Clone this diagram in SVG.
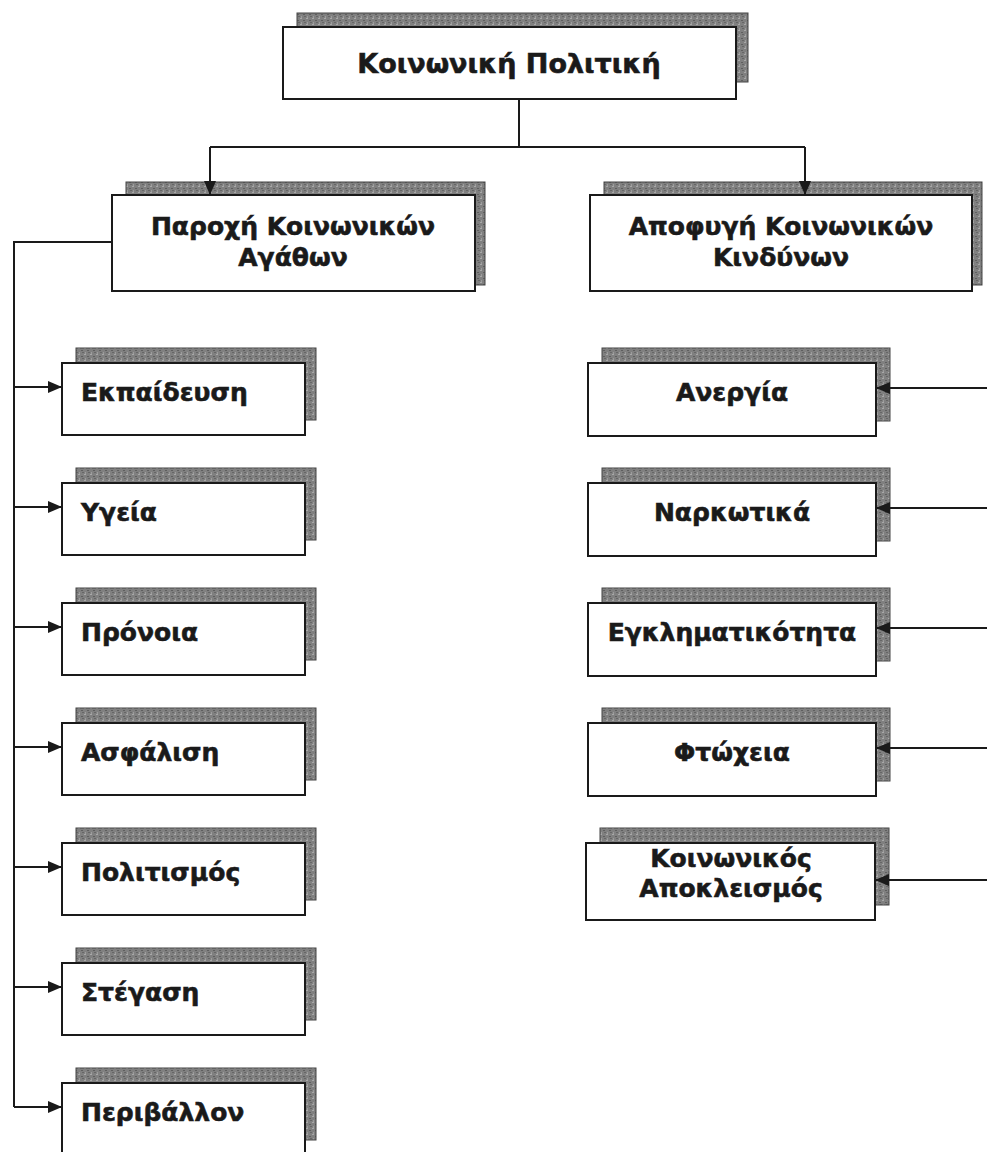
<svg xmlns="http://www.w3.org/2000/svg" width="987" height="1152" viewBox="0 0 987 1152">
<style>
.box{fill:#fff;stroke:#1a1a1a;stroke-width:2}
.sh{fill:url(#tex);stroke:#444;stroke-width:1}
.t{font-family:"DejaVu Sans","Noto Sans",sans-serif;font-weight:bold;font-size:25px;fill:#1a1a1a;stroke:#1a1a1a;stroke-width:0.6}
.c{text-anchor:middle}
.ln{fill:none;stroke:#1a1a1a;stroke-width:2}
</style>
<defs>
<pattern id="tex" width="6" height="6" patternUnits="userSpaceOnUse">
<rect width="6" height="6" fill="#808080"/>
<rect x="0" y="0" width="2" height="1" fill="#a8a8a8"/>
<rect x="3" y="2" width="2" height="1" fill="#5e5e5e"/>
<rect x="1" y="4" width="1" height="2" fill="#9c9c9c"/>
<rect x="4" y="4" width="2" height="1" fill="#666"/>
</pattern>
<marker id="ah" viewBox="0 0 14 12" refX="14" refY="6" markerWidth="14" markerHeight="12" markerUnits="userSpaceOnUse" orient="auto">
<path d="M0,0 L14,6 L0,12 Z" fill="#1a1a1a"/>
</marker>
</defs>
<rect width="987" height="1152" fill="#fff"/>

<g id="n-top">
<rect class="sh" x="297" y="13" width="451" height="69"/>
<rect class="box" x="283" y="27" width="453" height="72"/>
<text class="t c" x="509" y="73" style="font-size:27px">Κοινωνική Πολιτική</text>
</g>

<g id="n-paroxi">
<rect class="sh" x="126" y="182" width="359" height="103"/>
<rect class="box" x="112" y="195" width="363" height="96"/>
<text class="t c" x="293" y="235">Παροχή Κοινωνικών</text>
<text class="t c" x="293" y="266">Αγάθων</text>
</g>

<g id="n-apofygi">
<rect class="sh" x="604" y="182" width="378" height="103"/>
<rect class="box" x="590" y="195" width="382" height="96"/>
<text class="t c" x="781" y="235">Αποφυγή Κοινωνικών</text>
<text class="t c" x="781" y="266">Κινδύνων</text>
</g>

<g id="n-ekpaideusi">
<rect class="sh" x="76" y="348" width="240" height="72"/>
<rect class="box" x="62" y="363" width="243" height="72"/>
<text class="t" x="81" y="401">Εκπαίδευση</text>
</g>
<g id="n-ygeia">
<rect class="sh" x="76" y="468" width="240" height="72"/>
<rect class="box" x="62" y="483" width="243" height="72"/>
<text class="t" x="81" y="521">Υγεία</text>
</g>
<g id="n-pronoia">
<rect class="sh" x="76" y="588" width="240" height="72"/>
<rect class="box" x="62" y="603" width="243" height="72"/>
<text class="t" x="81" y="641">Πρόνοια</text>
</g>
<g id="n-asfalisi">
<rect class="sh" x="76" y="708" width="240" height="72"/>
<rect class="box" x="62" y="723" width="243" height="72"/>
<text class="t" x="81" y="761">Ασφάλιση</text>
</g>
<g id="n-politismos">
<rect class="sh" x="76" y="828" width="240" height="72"/>
<rect class="box" x="62" y="843" width="243" height="72"/>
<text class="t" x="81" y="881">Πολιτισμός</text>
</g>
<g id="n-stegasi">
<rect class="sh" x="76" y="948" width="240" height="72"/>
<rect class="box" x="62" y="963" width="243" height="72"/>
<text class="t" x="81" y="1001">Στέγαση</text>
</g>
<g id="n-perivallon">
<rect class="sh" x="76" y="1068" width="240" height="72"/>
<rect class="box" x="62" y="1083" width="243" height="72"/>
<text class="t" x="81" y="1121">Περιβάλλον</text>
</g>

<g id="n-anergia">
<rect class="sh" x="602" y="348" width="288" height="73"/>
<rect class="box" x="588" y="363" width="288" height="73"/>
<text class="t c" x="732" y="401">Ανεργία</text>
</g>
<g id="n-narkotika">
<rect class="sh" x="602" y="468" width="288" height="73"/>
<rect class="box" x="588" y="483" width="288" height="73"/>
<text class="t c" x="732" y="521">Ναρκωτικά</text>
</g>
<g id="n-egklimatikotita">
<rect class="sh" x="602" y="588" width="288" height="73"/>
<rect class="box" x="588" y="603" width="288" height="73"/>
<text class="t c" x="732" y="641">Εγκληματικότητα</text>
</g>
<g id="n-ftoxeia">
<rect class="sh" x="602" y="708" width="288" height="73"/>
<rect class="box" x="588" y="723" width="288" height="73"/>
<text class="t c" x="732" y="761">Φτώχεια</text>
</g>
<g id="n-apokleismos">
<rect class="sh" x="600" y="828" width="289" height="77"/>
<rect class="box" x="586" y="843" width="289" height="77"/>
<text class="t c" x="731" y="867">Κοινωνικός</text>
<text class="t c" x="731" y="897">Αποκλεισμός</text>
</g>

<g id="connectors">
<path class="ln" d="M519 99 V147 M210 147 H805"/>
<path class="ln" d="M210 147 V195" marker-end="url(#ah)"/>
<path class="ln" d="M805 147 V195" marker-end="url(#ah)"/>
<path class="ln" d="M112 242 H14 V1107"/>
<path class="ln" d="M14 387 H62" marker-end="url(#ah)"/>
<path class="ln" d="M14 507 H62" marker-end="url(#ah)"/>
<path class="ln" d="M14 627 H62" marker-end="url(#ah)"/>
<path class="ln" d="M14 747 H62" marker-end="url(#ah)"/>
<path class="ln" d="M14 867 H62" marker-end="url(#ah)"/>
<path class="ln" d="M14 987 H62" marker-end="url(#ah)"/>
<path class="ln" d="M14 1107 H62" marker-end="url(#ah)"/>
<path class="ln" d="M987 388 H876" marker-end="url(#ah)"/>
<path class="ln" d="M987 508 H876" marker-end="url(#ah)"/>
<path class="ln" d="M987 628 H876" marker-end="url(#ah)"/>
<path class="ln" d="M987 748 H876" marker-end="url(#ah)"/>
<path class="ln" d="M987 880 H875" marker-end="url(#ah)"/>
</g>
</svg>
